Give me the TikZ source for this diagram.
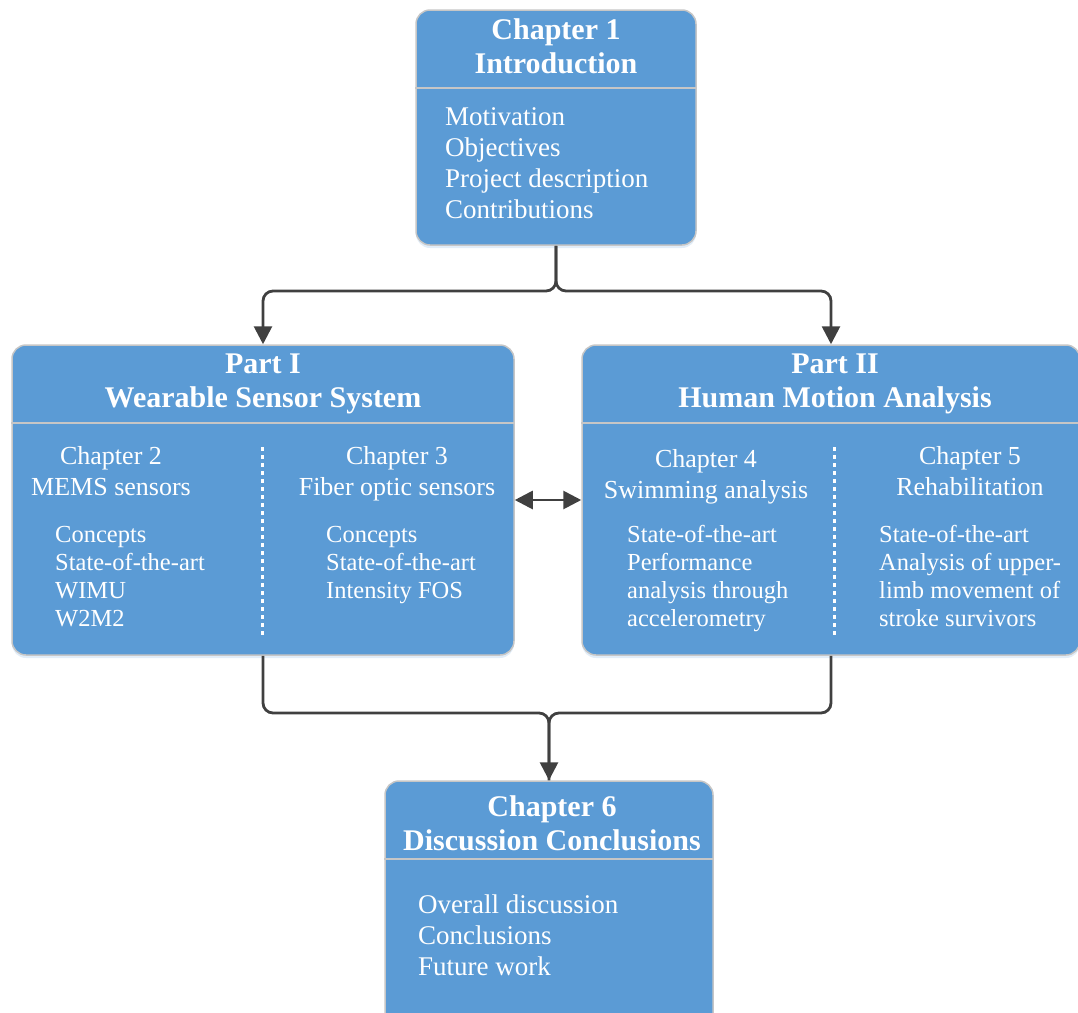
\documentclass[tikz,border=0pt]{standalone}
\usepackage{fontspec}
\setmainfont{Liberation Serif}
\usetikzlibrary{arrows.meta,shadows}
\definecolor{boxblue}{HTML}{5B9BD5}
\definecolor{rim}{HTML}{C6C6C6}
\definecolor{wire}{HTML}{404040}
\begin{document}
\begin{tikzpicture}[x=1pt,y=-1pt,
  panel/.style={draw=rim, line width=1.5pt, fill=boxblue, rounded corners=14pt,
    inner sep=0pt, drop shadow={shadow xshift=0pt, shadow yshift=-3pt,
    opacity=0.25, fill=boxblue!70}},
  rule/.style={draw=rim, line width=2pt},
  divider/.style={draw=white, line width=3pt, dash pattern=on 4pt off 4pt},
  conn/.style={draw=wire, line width=2.8pt, rounded corners=10pt},
  head/.tip={Triangle[length=18pt,width=18pt]},
  tip/.style={-head},
  ttl/.style={text=white, inner sep=0pt, anchor=base,
    font=\fontsize{30}{34.5}\selectfont\bfseries},
  hd/.style={text=white, inner sep=0pt, anchor=base,
    font=\fontsize{26}{31}\selectfont},
  lst/.style={text=white, inner sep=0pt, anchor=base west,
    font=\fontsize{27}{31}\selectfont},
  sub/.style={text=white, inner sep=0pt, anchor=base west,
    font=\fontsize{24.5}{28}\selectfont}]

\useasboundingbox (0,0) rectangle (1078,1012);
\clip (0,0) rectangle (1078,1012);

% the four panels
\node[panel, minimum width=280pt, minimum height=235pt] (ch1) at (556,127.5) {};
\node[panel, minimum width=502pt, minimum height=310pt] (part1) at (263,500) {};
\node[panel, minimum width=498pt, minimum height=310pt] (part2) at (831,500) {};
\node[panel, minimum width=328pt, minimum height=250pt] (ch6) at (549,906) {};

% header rules
\draw[rule] (ch1.west |- 0,88) -- (ch1.east |- 0,88);
\draw[rule] (part1.west |- 0,423) -- (part1.east |- 0,423);
\draw[rule] (part2.west |- 0,423) -- (part2.east |- 0,423);
\draw[rule] (ch6.west |- 0,859) -- (ch6.east |- 0,859);

% dotted column dividers
\draw[divider] (262,447) -- (262,636);
\draw[divider] (834,447) -- (834,636);

% Chapter 1
\node[ttl] (c1t) at (556,39) {\begin{tabular}[t]{@{}c@{}}Chapter 1\\Introduction\end{tabular}};
\node[lst] (c1l) at (445,125) {\begin{tabular}[t]{@{}l@{}}Motivation\\Objectives\\Project description\\Contributions\end{tabular}};

% Part I
\node[ttl] (p1t) at (263,373) {\begin{tabular}[t]{@{}c@{}}Part I\\Wearable Sensor System\end{tabular}};
\node[hd] (c2h) at (111,464) {\begin{tabular}[t]{@{}c@{}}Chapter 2\\MEMS sensors\end{tabular}};
\node[sub] (c2l) at (55,542) {\begin{tabular}[t]{@{}l@{}}Concepts\\State-of-the-art\\WIMU\\W2M2\end{tabular}};
\node[hd] (c3h) at (397,464) {\begin{tabular}[t]{@{}c@{}}Chapter 3\\Fiber optic sensors\end{tabular}};
\node[sub] (c3l) at (326,542) {\begin{tabular}[t]{@{}l@{}}Concepts\\State-of-the-art\\Intensity FOS\end{tabular}};

% Part II
\node[ttl] (p2t) at (835,373) {\begin{tabular}[t]{@{}c@{}}Part II\\Human Motion Analysis\end{tabular}};
\node[hd] (c4h) at (706,467) {\begin{tabular}[t]{@{}c@{}}Chapter 4\\Swimming analysis\end{tabular}};
\node[sub] (c4l) at (627,542) {\begin{tabular}[t]{@{}l@{}}State-of-the-art\\Performance\\analysis through\\accelerometry\end{tabular}};
\node[hd] (c5h) at (970,464) {\begin{tabular}[t]{@{}c@{}}Chapter 5\\Rehabilitation\end{tabular}};
\node[sub] (c5l) at (879,542) {\begin{tabular}[t]{@{}l@{}}State-of-the-art\\Analysis of upper-\\limb movement of\\stroke survivors\end{tabular}};

% Chapter 6
\node[ttl] (c6t) at (552,816) {\begin{tabular}[t]{@{}c@{}}Chapter 6\\Discussion Conclusions\end{tabular}};
\node[lst] (c6l) at (418,913) {\begin{tabular}[t]{@{}l@{}}Overall discussion\\Conclusions\\Future work\end{tabular}};

% connectors
\coordinate (split) at (556,291);
\coordinate (merge) at (549,713);
\draw[conn, tip] (ch1.south) -- (split) -| (part1.north);
\draw[conn, tip] (ch1.south) -- (split) -| (part2.north);
\draw[conn, tip] (part1.south) |- (merge) -- (ch6.north);
\draw[conn] (part2.south) |- (merge) -- (ch6.north);
\draw[conn, head-head] (part1.east) -- (part2.west);
\end{tikzpicture}
\end{document}
